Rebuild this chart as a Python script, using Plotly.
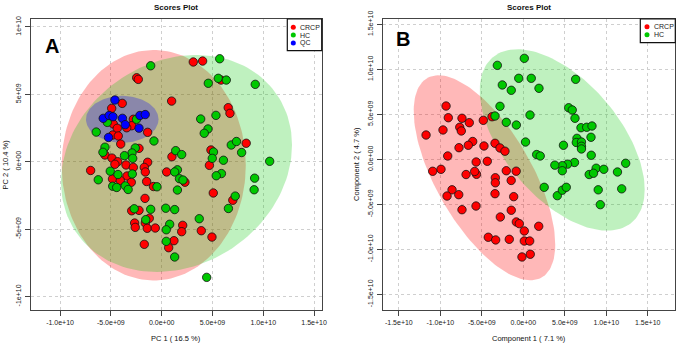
import numpy as np
import plotly.graph_objects as go

# ---------------- data (score values in units of 1e9) ----------------
# Panel A : PCA scores
crcp_a_x = [3.11, 4.03, -2.46, -2.30, 5.84, 0.98, -3.88, -4.92, 6.55, 6.72, -2.79, -4.76, -4.37, -2.95, -3.44,
            -1.38, -4.82, -4.27, -4.03, -2.23, 4.85, 8.32, 1.01, 4.70, -5.58, -4.89, -4.33, -4.60, -3.51, -1.38,
            -1.71, -1.61, -6.99, 0.49, -2.79, -3.41, -4.84, -4.07, -2.99, -1.48, -0.81, 2.29, -1.64, 5.08, 7.00,
            -2.95, -2.23, -1.22, -1.61, -2.66, -2.60, -1.42, -0.63, 2.07, 1.97, 3.90, 4.95, 1.21, 0.69, -1.71]
crcp_a_y = [7.40, 7.47, 6.23, 6.11, 6.06, 4.50, 4.33, 3.96, 4.01, 3.59, 3.15, 2.80, 2.48, 2.67, 2.52,
            2.18, 1.98, 1.91, 1.31, 0.99, 0.87, 1.37, 0.37, -0.27, 0.50, 0.27, 0.00, -0.19, -0.24, -0.04,
            -0.42, -0.76, -0.65, -0.76, -0.42, -1.06, -1.28, -1.39, -1.53, -1.47, -1.84, -1.52, -2.72, -2.32, -2.86,
            -3.64, -3.61, -4.20, -4.55, -4.55, -4.87, -4.94, -4.92, -4.72, -5.19, -5.12, -5.59, -5.86, -6.38, -6.13]
hc_a_x = [-1.08, 5.71, 5.57, 6.36, 4.59, 9.21, 3.84, 5.34, 4.56, 4.19, -5.35, -2.48, -6.44, -0.76, 6.85,
          7.36, 7.87, 10.63, -5.58, -5.78, -2.60, -2.92, -3.66, -2.85, 1.38, 1.97, 5.10, 4.98, 6.08, -5.06,
          1.55, 1.28, 5.88, 5.37, 1.75, 2.10, -4.30, -2.89, -6.24, -4.82, -4.43, -3.58, -3.30, -0.46, 1.55,
          9.15, 9.10, 7.24, 6.57, -2.70, -1.08, 0.40, 1.28, -1.57, 0.79, 0.45, 3.70, 0.45, 1.28, 4.43]
hc_a_y = [7.12, 7.64, 6.19, 6.06, 5.82, 5.74, 3.17, 3.44, 2.43, 2.11, 2.92, 3.15, 2.20, 1.54, 1.24,
          1.50, 0.68, 0.03, 1.08, 0.70, 1.02, 0.65, 0.45, 0.25, 0.82, 0.53, 0.72, 0.25, 0.11, -0.70,
          -0.60, -0.76, -0.88, -1.04, -1.26, -1.36, -0.95, -0.91, -1.34, -1.82, -1.91, -1.79, -2.06, -1.86, -2.10,
          -1.22, -2.08, -2.55, -3.47, -3.49, -3.53, -3.45, -3.55, -4.30, -4.64, -5.05, -4.23, -5.91, -7.07, -8.58]
qc_a_x = [-4.60, -5.75, -5.17, -4.79, -3.86, -3.58, -2.14, -1.62, -2.23, -5.23]
qc_a_y = [4.58, 3.22, 3.43, 3.34, 3.22, 2.75, 3.43, 3.50, 2.49, 1.80]

# Panel B : PLS-DA scores
crcp_b_x = [-11.72, -9.68, -9.31, -9.04, -7.39, -7.66, -7.47, -6.51, -4.82, -3.77, -6.10, -6.63, -7.75, -4.74,
            -3.41, -2.81, -2.21, -9.11, -5.68, -4.34, -9.92, -10.92, -6.90, -5.64, -5.86, -3.37, -3.37, -2.05,
            -0.86, -1.46, -8.59, -7.78, -9.19, -3.41, -1.16, -5.70, -7.39, -1.45, -2.77, -0.84, -0.48, 1.86,
            0.12, -4.22, -3.33, -1.69, 0.12, 0.77, 0.84, -0.16]
crcp_b_y = [2.71, 3.27, 5.93, 4.63, 4.57, 3.57, 3.16, 4.08, 4.34, 4.74, 1.99, 1.57, 1.30, 1.49,
            1.79, 1.27, 0.91, 0.38, -0.29, -0.21, -1.10, -1.32, -1.68, -1.66, -1.34, -2.04, -2.60, -1.26,
            -1.31, -2.34, -3.38, -3.92, -4.07, -3.81, -4.14, -5.18, -5.59, -5.65, -6.40, -6.95, -7.14, -7.43,
            -7.95, -8.65, -8.95, -8.88, -9.07, -9.07, -10.54, -10.84]
hc_b_x = [-3.13, 0.12, -2.53, -1.45, -0.55, 0.96, 1.89, 6.31, -2.81, -3.41, -2.05, -0.84, 0.81, 5.47, 5.90,
          6.23, 6.95, 7.64, 8.28, 6.47, 6.39, 7.01, 7.01, 7.01, 8.16, 4.84, 0.27, 1.61, 2.04, 8.19,
          6.17, 5.33, 4.70, 3.80, 4.70, 8.78, 9.70, 11.35, 12.34, 7.94, 8.46, 2.52, 4.10, 4.70, 5.18,
          9.03, 11.86, 9.28]
hc_b_y = [10.45, 11.23, 8.27, 7.68, 9.01, 9.01, 7.90, 8.90, 5.90, 4.82, 4.12, 3.82, 4.93, 5.74, 5.49,
          4.57, 3.52, 3.57, 3.71, 2.34, 1.88, 1.93, 1.46, 1.16, 2.46, 1.57, 1.93, 0.54, 0.38, 0.46,
          -0.34, -0.53, -0.70, -0.64, -1.26, -0.98, -1.10, -1.40, -0.43, -1.68, -1.54, -3.10, -4.03, -3.42, -3.10,
          -3.38, -3.27, -5.03]

# confidence ellipses: centre x, centre y, half-width, half-height, correlation
ell_crcp_a = [-0.78, -0.26, 9.06, 8.55, 0.00]
ell_hc_a = [1.46, -0.13, 11.37, 8.05, 0.17]
ell_qc_a = [-3.88, 3.15, 3.57, 1.74, 0.00]
ell_crcp_b = [-4.68, -2.04, 8.53, 11.39, -0.65]
ell_hc_b = [4.69, 2.16, 9.94, 10.08, -0.545]

# tick labels
a_xticks = [-10, -5, 0, 5, 10, 15]
a_xtext = ["-1.0e+10", "-5.0e+09", "0.0e+00", "5.0e+09", "1.0e+10", "1.5e+10"]
a_yticks = [-10, -5, 0, 5, 10]
a_ytext = ["-1e+10", "-5e+09", "0e+00", "5e+09", "1e+10"]
b_ticks = [-15, -10, -5, 0, 5, 10, 15]
b_text = ["-1.5e+10", "-1.0e+10", "-5.0e+09", "0.0e+00", "5.0e+09", "1.0e+10", "1.5e+10"]

RED, GREEN, BLUE = "#FF0000", "#00C800", "#0000FF"
FONT = "Liberation Sans, Arial, sans-serif"
W, H = 694, 346


def fx(x):
    return x / W


def fy(y):
    return 1 - y / H


def ellipse(p, n=160):
    cx, cy, sx, sy, r = p
    t = np.linspace(0, 2 * np.pi, n)
    phi = np.arccos(r)
    return cx + sx * np.cos(t), cy + sy * np.cos(t - phi)


fig = go.Figure()


def add_ellipse(p, color, xa, ya):
    ex, ey = ellipse(p)
    fig.add_trace(go.Scatter(x=ex, y=ey, mode="lines", fill="toself", fillcolor=color,
                             line=dict(width=0), hoverinfo="skip", showlegend=False,
                             xaxis=xa, yaxis=ya))


def add_points(xs, ys, color, xa, ya):
    fig.add_trace(go.Scatter(x=xs, y=ys, mode="markers", showlegend=False, xaxis=xa, yaxis=ya,
                             marker=dict(size=8.4, color=color, line=dict(color="#111111", width=0.8))))


add_ellipse(ell_crcp_a, "rgba(255,0,0,0.28)", "x", "y")
add_ellipse(ell_hc_a, "rgba(0,200,0,0.25)", "x", "y")
add_ellipse(ell_qc_a, "rgba(0,0,255,0.28)", "x", "y")
add_points(crcp_a_x, crcp_a_y, RED, "x", "y")
add_points(hc_a_x, hc_a_y, GREEN, "x", "y")
add_points(qc_a_x, qc_a_y, BLUE, "x", "y")

add_ellipse(ell_crcp_b, "rgba(255,0,0,0.28)", "x2", "y2")
add_ellipse(ell_hc_b, "rgba(0,200,0,0.25)", "x2", "y2")
add_points(crcp_b_x, crcp_b_y, RED, "x2", "y2")
add_points(hc_b_x, hc_b_y, GREEN, "x2", "y2")

axis_common = dict(showgrid=True, gridcolor="#CFCFCF", griddash="dot", gridwidth=1,
                   zeroline=False, showline=True, mirror=True, linecolor="#444444", linewidth=1,
                   ticks="outside", ticklen=5, tickcolor="#444444", tickwidth=1,
                   tickfont=dict(family=FONT, size=7, color="#222222"), automargin=False,
                   tickmode="array", ticklabelstandoff=1)

ydom = [fy(309.7), fy(19)]
fig.update_layout(
    width=W, height=H, margin=dict(l=0, r=0, t=0, b=0),
    paper_bgcolor="white", plot_bgcolor="white", showlegend=False,
    xaxis=dict(domain=[fx(31), fx(321.7)], range=[-12.86, 15.75], tickvals=a_xticks, ticktext=a_xtext,
               **axis_common),
    yaxis=dict(domain=ydom, range=[-10.98, 10.59], tickvals=a_yticks, ticktext=a_ytext, tickangle=-90,
               **axis_common),
    xaxis2=dict(domain=[fx(383), fx(675.3)], range=[-16.91, 18.32], tickvals=b_ticks, ticktext=b_text,
                anchor="y2", **axis_common),
    yaxis2=dict(domain=ydom, range=[-16.70, 15.60], tickvals=b_ticks, ticktext=b_text, tickangle=-90,
                anchor="x2", **axis_common),
)

ann = []


def text(x, y, s, size=7, bold=False, angle=0, anchor="center", color="#111111"):
    ann.append(dict(x=fx(x), y=fy(y), xref="paper", yref="paper", text=("<b>%s</b>" % s) if bold else s,
                    showarrow=False, xanchor=anchor, yanchor="middle", textangle=angle,
                    font=dict(family=FONT, size=size, color=color)))


text(176.4, 8, "Scores Plot", size=8, bold=True)
text(529.2, 8, "Scores Plot", size=8, bold=True)
text(176.4, 338.5, "PC 1 ( 16.5 %)", size=7.5)
text(5, 164.4, "PC 2 ( 10.4 %)", size=7.5, angle=-90)
text(529.2, 338.5, "Component 1 ( 7.1 %)", size=7.5)
text(356.5, 164.4, "Component 2 ( 4.7 %)", size=7.5, angle=-90)
text(51.7, 46, "A", size=20, bold=True, color="black")
text(402.8, 39.5, "B", size=20, bold=True, color="black")

shapes = []
# legend A
shapes.append(dict(type="rect", xref="paper", yref="paper", x0=fx(287.3), x1=fx(321.7), y0=fy(50.7), y1=fy(19),
                   line=dict(color="#111111", width=1.2), fillcolor="white", layer="above"))
for lab, col, yy in [("CRCP", RED, 27.3), ("HC", GREEN, 35), ("QC", BLUE, 43)]:
    shapes.append(dict(type="circle", xref="paper", yref="paper", xsizemode="pixel", ysizemode="pixel",
                       xanchor=fx(293.3), yanchor=fy(yy), x0=-2.5, x1=2.5, y0=-2.5, y1=2.5,
                       fillcolor=col, line=dict(width=0), layer="above"))
    text(298.3, yy, lab, size=7, anchor="left", color="#222222")
# legend B
shapes.append(dict(type="rect", xref="paper", yref="paper", x0=fx(640.3), x1=fx(675.3), y0=fy(42.7), y1=fy(19),
                   line=dict(color="#111111", width=1.2), fillcolor="white", layer="above"))
for lab, col, yy in [("CRCP", RED, 26.7), ("HC", GREEN, 34.7)]:
    shapes.append(dict(type="circle", xref="paper", yref="paper", xsizemode="pixel", ysizemode="pixel",
                       xanchor=fx(647), yanchor=fy(yy), x0=-2.5, x1=2.5, y0=-2.5, y1=2.5,
                       fillcolor=col, line=dict(width=0), layer="above"))
    text(652, yy, lab, size=7, anchor="left", color="#222222")

fig.update_layout(annotations=ann, shapes=shapes)
fig.write_html("out.html")
